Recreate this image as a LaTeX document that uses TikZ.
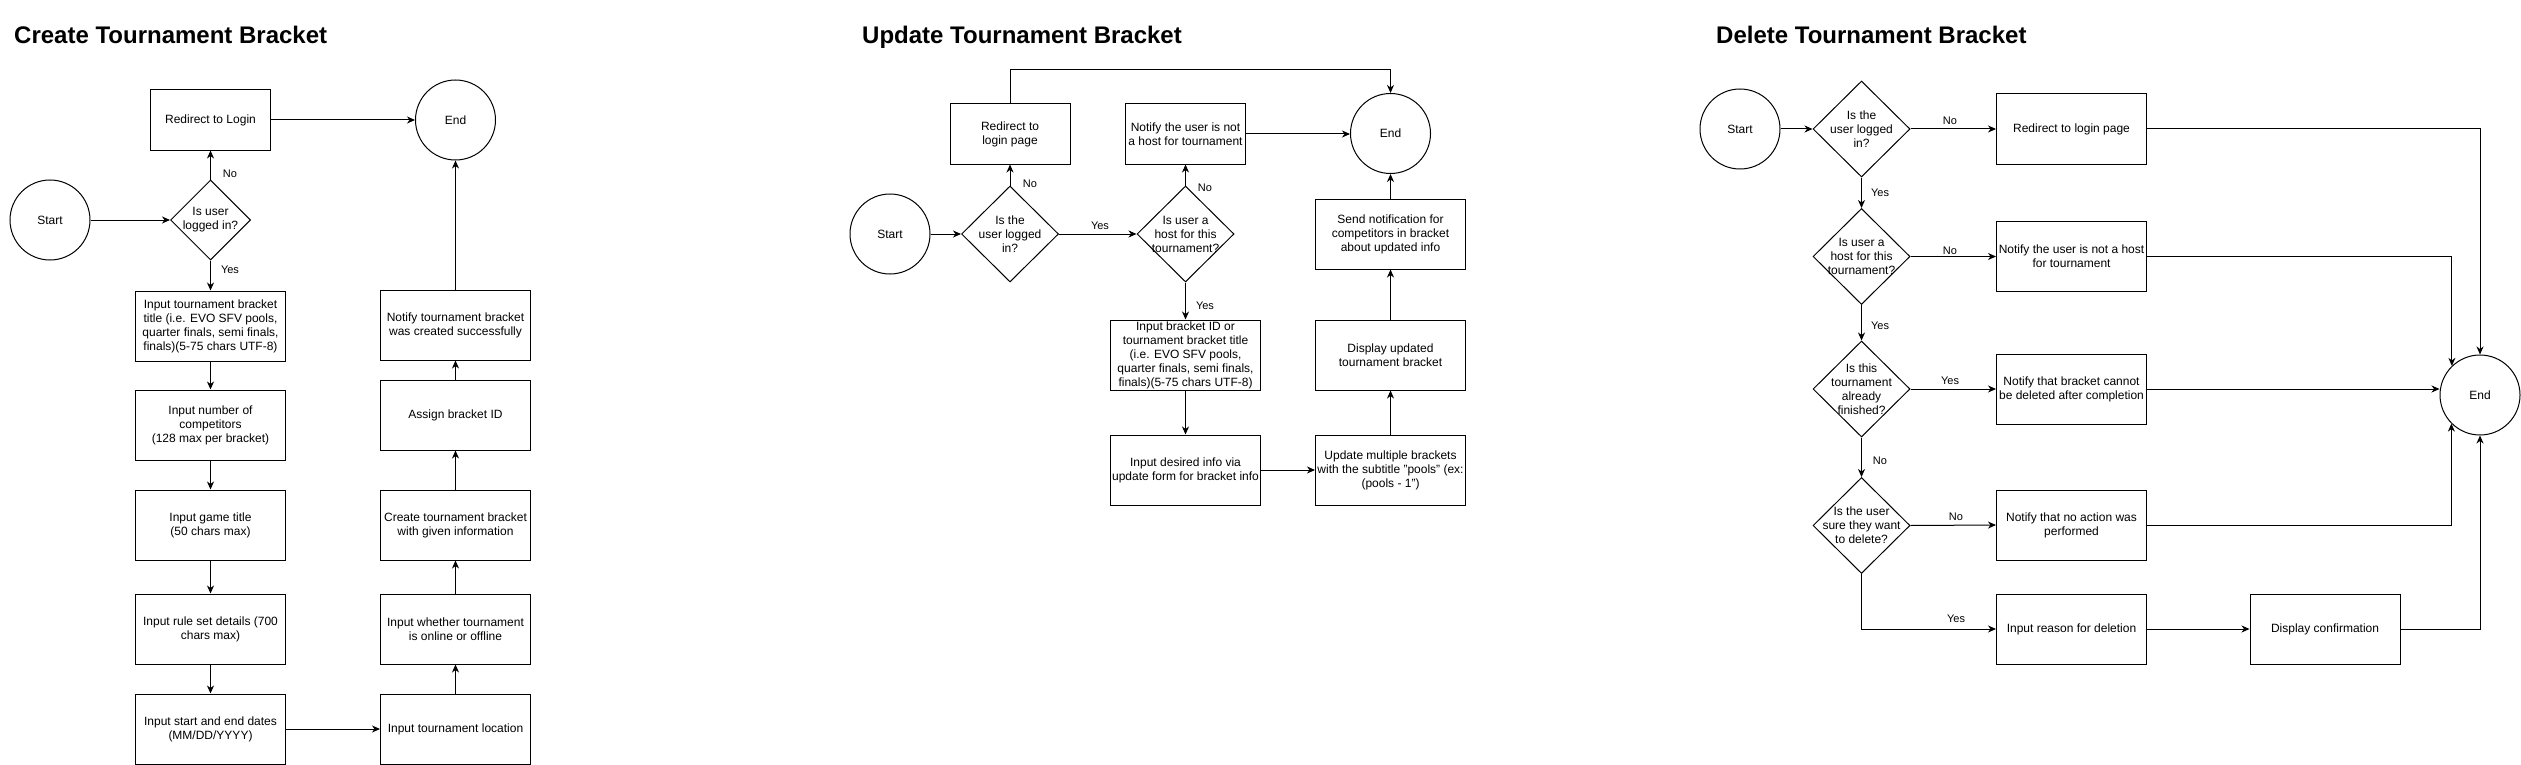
\documentclass[tikz,border=0pt]{standalone}
\usepackage{fontspec}
\setmainfont{Liberation Sans}
\usetikzlibrary{shapes.geometric,arrows.meta}
\begin{document}
\begin{tikzpicture}[x=1pt,y=-1pt,
  every node/.style={font=\fontsize{12}{14}\selectfont, text=black},
  box/.style={draw, line width=1pt, rectangle, minimum width=150pt, minimum height=70pt, inner sep=0pt, align=center, fill=white},
  sbox/.style={box, minimum width=120pt, minimum height=60pt},
  term/.style={draw, line width=1pt, circle, minimum size=80pt, inner sep=0pt, fill=white},
  dia/.style={draw, line width=1pt, diamond, minimum width=97pt, minimum height=96pt, inner sep=0pt, fill=white},
  sdia/.style={dia, minimum width=80pt, minimum height=80pt},
  dtext/.style={align=center, inner sep=0pt},
  lab/.style={font=\fontsize{11}{13}\selectfont, inner sep=0pt},
  ttl/.style={font=\fontsize{24}{28}\selectfont\bfseries, anchor=base west, inner sep=0pt},
  arr/.style={draw, line width=1pt, -{Stealth[length=8pt,width=7pt,inset=2.5pt]}}
]
\useasboundingbox[fill=white] (0,0) rectangle (2521,765);

% ---------------- Create ----------------
\node[ttl] (ctitlehead) at (14,44) {Create Tournament Bracket};
\node[term] (cstart) at (50,220) {Start};
\node[sdia] (cd) at (210.5,220) {};
\node[dtext] (cdt) at (cd) {Is user\\logged in?};
\node[sbox] (credir) at (210.5,120) {Redirect to Login};
\node[term] (cend) at (455.5,120) {End};
\node[box] (ctitle) at (210.5,326) {Input tournament bracket\\title (i.e. EVO SFV pools,\\quarter finals, semi finals,\\finals)(5-75 chars UTF-8)};
\node[box] (cnum) at (210.5,425) {Input number of\\competitors\\(128 max per bracket)};
\node[box] (cgame) at (210.5,525) {Input game title\\(50 chars max)};
\node[box] (crule) at (210.5,629) {Input rule set details (700\\chars max)};
\node[box] (cdates) at (210.5,729) {Input start and end dates\\(MM/DD/YYYY)};
\node[box] (cloc) at (455.5,729) {Input tournament location};
\node[box] (cwhether) at (455.5,629) {Input whether tournament\\is online or offline};
\node[box] (ccreate) at (455.5,525) {Create tournament bracket\\with given information};
\node[box] (cassign) at (455.5,415) {Assign bracket ID};
\node[box] (cnotify) at (455.5,325) {Notify tournament bracket\\was created successfully};

\draw[arr] (cstart) -- (cd);
\draw[arr] (cd.north) -- (credir.south);
\draw[arr] (credir) -- (cend);
\draw[arr] (cd.south) -- (ctitle.north);
\draw[arr] (ctitle) -- (cnum);
\draw[arr] (cnum) -- (cgame);
\draw[arr] (cgame) -- (crule);
\draw[arr] (crule) -- (cdates);
\draw[arr] (cdates) -- (cloc);
\draw[arr] (cloc) -- (cwhether);
\draw[arr] (cwhether) -- (ccreate);
\draw[arr] (ccreate) -- (cassign);
\draw[arr] (cassign) -- (cnotify);
\draw[arr] (cnotify) -- (cend);
\node[lab] (cl1) at (230,174) {No};
\node[lab] (cl2) at (230,270) {Yes};

% ---------------- Update ----------------
\node[ttl] (utitlehead) at (862,44) {Update Tournament Bracket};
\node[term] (ustart) at (890,234) {Start};
\node[dia] (ud1) at (1010,234) {};
\node[dtext] (ud1t) at (ud1) {Is the\\user logged\\in?};
\node[dia] (ud2) at (1185.5,234) {};
\node[dtext] (ud2t) at (ud2) {Is user a\\host for this\\tournament?};
\node[sbox] (uredir) at (1010,134) {Redirect to\\login page};
\node[sbox] (uhost) at (1185.5,134) {Notify the user is not\\a host for tournament};
\node[term] (uend) at (1390.5,133.5) {End};
\node[box] (uinput) at (1185.5,355) {Input bracket ID or\\tournament bracket title\\(i.e. EVO SFV pools,\\quarter finals, semi finals,\\finals)(5-75 chars UTF-8)};
\node[box] (udesired) at (1185.5,470) {Input desired info via\\update form for bracket info};
\node[box] (umulti) at (1390.5,470) {Update multiple brackets\\with the subtitle "pools" (ex:\\(pools - 1")};
\node[box] (udisplay) at (1390.5,355) {Display updated\\tournament bracket};
\node[box] (usend) at (1390.5,234) {Send notification for\\competitors in bracket\\about updated info};
\coordinate (utop) at (1010,70);

\draw[arr] (ustart) -- (ud1);
\draw[arr] (ud1.north) -- (uredir.south);
\draw[arr] (uredir.north) -- (utop) -| (uend.north);
\draw[arr] (ud1.east) -- (ud2.west);
\draw[arr] (ud2.north) -- (uhost.south);
\draw[arr] (uhost.east) -- (uend.west |- uhost.east);
\draw[arr] (ud2.south) -- (uinput.north);
\draw[arr] (uinput) -- (udesired);
\draw[arr] (udesired) -- (umulti);
\draw[arr] (umulti) -- (udisplay);
\draw[arr] (udisplay) -- (usend);
\draw[arr] (usend.north) -- (uend.south);
\node[lab] (ul1) at (1030,184) {No};
\node[lab] (ul2) at (1100,226) {Yes};
\node[lab] (ul3) at (1205,188) {No};
\node[lab] (ul4) at (1205,306) {Yes};

% ---------------- Delete ----------------
\node[ttl] (dtitlehead) at (1716,44) {Delete Tournament Bracket};
\node[term] (dstart) at (1740,129) {Start};
\node[dia] (dd1) at (1861.5,129) {};
\node[dtext] (dd1t) at (dd1) {Is the\\user logged\\in?};
\node[dia] (dd2) at (1861.5,256.5) {};
\node[dtext] (dd2t) at (dd2) {Is user a\\host for this\\tournament?};
\node[dia] (dd3) at (1861.5,389) {};
\node[dtext] (dd3t) at (dd3) {Is this\\tournament\\already\\finished?};
\node[dia] (dd4) at (1861.5,525.5) {};
\node[dtext] (dd4t) at (dd4) {Is the user\\sure they want\\to delete?};
\node[box] (dredir) at (2071.5,129) {Redirect to login page};
\node[box] (dhost) at (2071.5,256.5) {Notify the user is not a host\\for tournament};
\node[box] (dcannot) at (2071.5,389) {Notify that bracket cannot\\be deleted after completion};
\node[box] (dnoact) at (2071.5,525) {Notify that no action was\\performed};
\node[box] (dreason) at (2071.5,629) {Input reason for deletion};
\node[box] (dconf) at (2325,629) {Display confirmation};
\node[term] (dend) at (2480,395) {End};

\draw[arr] (dstart) -- (dd1);
\draw[arr] (dd1.east) -- (dredir.west);
\draw[arr] (dredir.east) -| (dend.north);
\draw[arr] (dd1.south) -- (dd2.north);
\draw[arr] (dd2.east) -- (dhost.west);
\draw[arr] (dhost.east) -| (dend.134.4);
\draw[arr] (dd2.south) -- (dd3.north);
\draw[arr] (dd3.east) -- (dcannot.west);
\draw[arr] (dcannot.east) -- (dend.west |- dcannot.east);
\draw[arr] (dd3.south) -- (dd4.north);
\draw[arr] (dd4.east) -- (dnoact.west);
\draw[arr] (dnoact.east) -| (dend.225.6);
\draw[arr] (dd4.south) |- (dreason.west);
\draw[arr] (dreason) -- (dconf);
\draw[arr] (dconf.east) -| (dend.south);
\node[lab] (dl1) at (1950,121) {No};
\node[lab] (dl2) at (1880,193) {Yes};
\node[lab] (dl3) at (1950,251) {No};
\node[lab] (dl4) at (1880,326) {Yes};
\node[lab] (dl5) at (1950,381) {Yes};
\node[lab] (dl6) at (1880,461) {No};
\node[lab] (dl7) at (1956,517) {No};
\node[lab] (dl8) at (1956,619) {Yes};
\end{tikzpicture}
\end{document}
